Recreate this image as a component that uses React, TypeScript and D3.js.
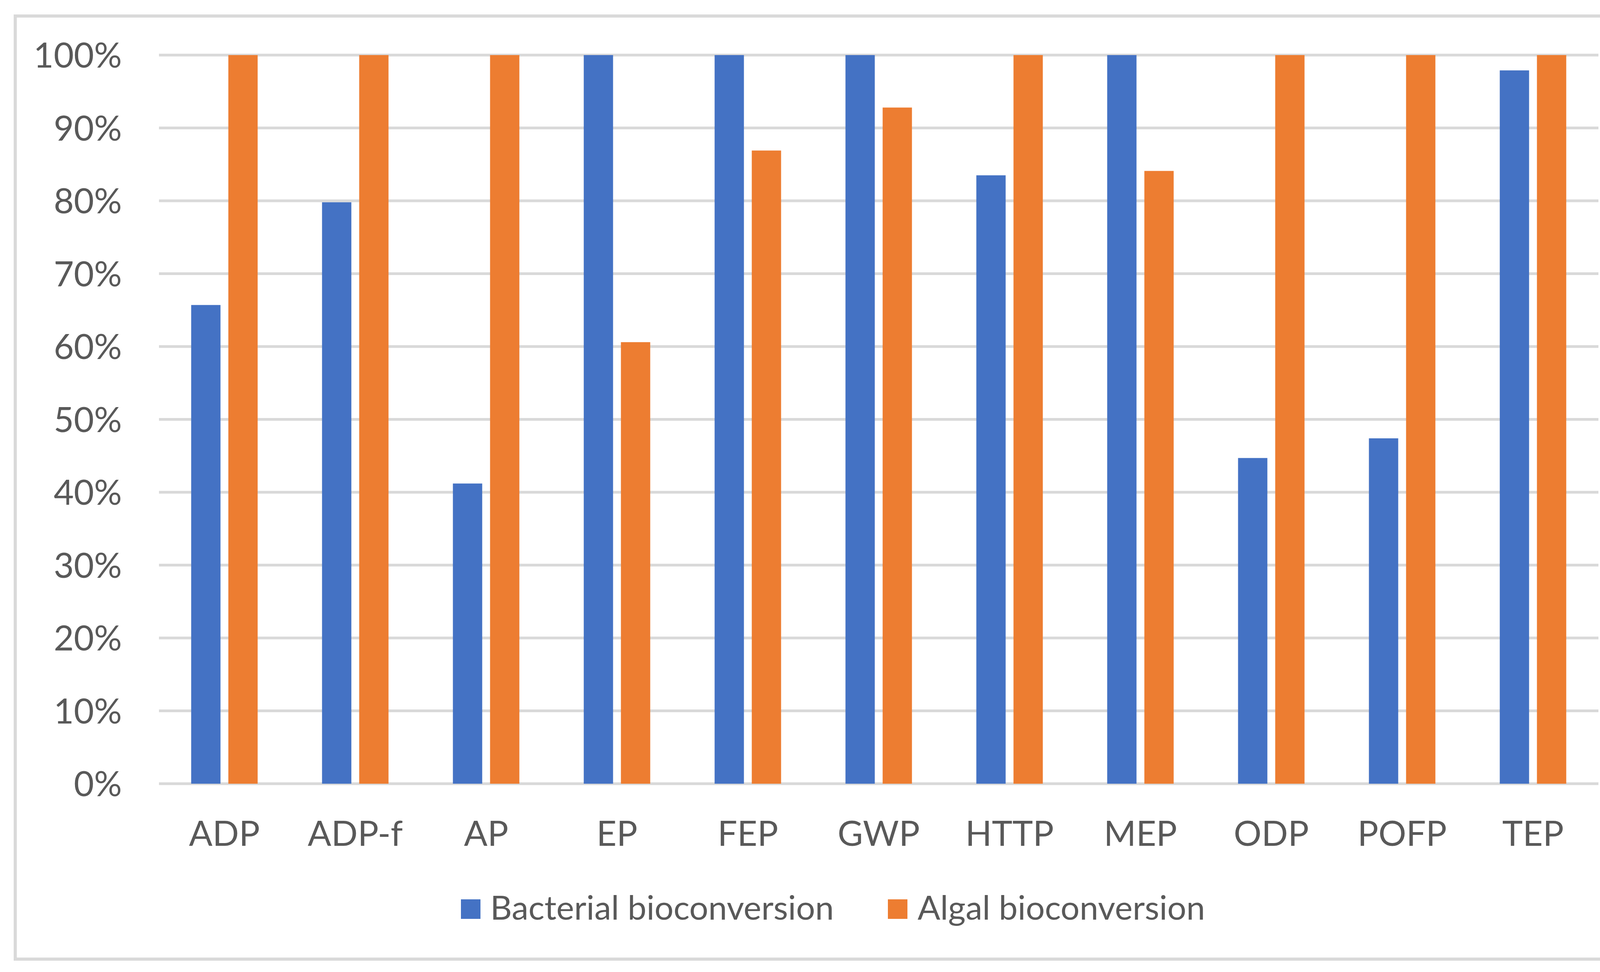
import React from "react";
import * as d3 from "d3";

const categories = ["ADP", "ADP-f", "AP", "EP", "FEP", "GWP", "HTTP", "MEP", "ODP", "POFP", "TEP"];
const bacterial = [65.7, 79.8, 41.2, 100, 100, 100, 83.5, 100, 44.7, 47.4, 97.9];
const algal = [100, 100, 100, 60.6, 86.9, 92.8, 100, 84.1, 100, 100, 100];
const seriesNames = ["Bacterial bioconversion", "Algal bioconversion"];
const seriesColors = ["#4472C4", "#ED7D31"];
const yTicks = [0, 10, 20, 30, 40, 50, 60, 70, 80, 90, 100];

const W = 4222;
const H = 2488;
const FONT = "Lato, 'Open Sans', sans-serif";
const TEXT = "#595959";
const GRID = "#d9d9d9";

export default function App() {
  const x = d3.scaleBand<string>().domain(categories).range([407, 4092]).paddingInner(0).paddingOuter(0);
  const y = d3.scaleLinear().domain([0, 100]).range([2006, 141]);
  const step = x.step();
  const barW = step * 0.224;
  const gap = step * 0.06;
  const groupW = barW * 2 + gap;
  const inner = d3.scaleOrdinal<number, number>().domain([0, 1]).range([0, barW + gap]);
  const series = [bacterial, algal];

  return (
    <svg width={W} height={H} style={{ position: "absolute", left: 0, top: 0, background: "#fff" }}>
      <rect x={0} y={0} width={W} height={H} fill="#fff" />
      <rect x={39} y={41} width={4141} height={2414} fill="#fff" stroke={GRID} strokeWidth={8} />
      {yTicks.map((t) => (
        <g key={t}>
          <line x1={407} x2={4092} y1={y(t)} y2={y(t)} stroke={GRID} strokeWidth={7} />
          <text x={312} y={y(t)} dy="0.36em" textAnchor="end" fontFamily={FONT} fontSize={89} fill={TEXT}>
            {t}%
          </text>
        </g>
      ))}
      {series.map((vals, si) =>
        vals.map((v, i) => {
          const x0 = (x(categories[i]) as number) + (step - groupW) / 2 + inner(si);
          return (
            <rect key={si + "-" + i} x={x0} y={y(v)} width={barW} height={y(0) - y(v)} fill={seriesColors[si]} />
          );
        })
      )}
      {categories.map((c) => (
        <text key={c} x={(x(c) as number) + step / 2} y={2165} textAnchor="middle" fontFamily={FONT} fontSize={89} fill={TEXT}>
          {c}
        </text>
      ))}
      <g>
        <rect x={1180} y={2302} width={50} height={50} fill={seriesColors[0]} />
        <text x={1255} y={2354} fontFamily={FONT} fontSize={86} fill={TEXT}>{seriesNames[0]}</text>
        <rect x={2273} y={2302} width={50} height={50} fill={seriesColors[1]} />
        <text x={2349} y={2354} fontFamily={FONT} fontSize={86} fill={TEXT}>{seriesNames[1]}</text>
      </g>
    </svg>
  );
}
